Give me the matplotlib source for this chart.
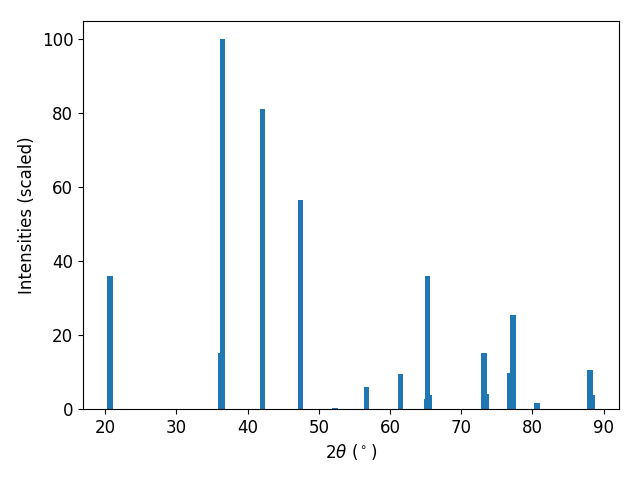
import matplotlib
matplotlib.use("Agg")
import matplotlib.pyplot as plt

# peak positions (2theta, degrees) and scaled intensities
two_theta = [20.70, 36.27, 36.46, 42.08, 47.43, 52.28, 56.71, 61.49,
             65.15, 65.57, 65.29, 73.45, 73.16, 76.82, 77.24, 80.62,
             88.35, 88.07]
intensity = [36.0, 15.1, 100.0, 81.3, 56.6, 0.3, 6.0, 9.6,
             2.7, 3.8, 35.9, 4.1, 15.2, 9.8, 25.5, 1.6,
             3.9, 10.6]

plt.rcParams['font.size'] = 12

fig, ax = plt.subplots(figsize=(6.4, 4.8), dpi=100)
ax.bar(two_theta, intensity, width=0.8, color='#1f77b4')
ax.set_xlabel(r'$2\theta$ ($^\circ$)')
ax.set_ylabel('Intensities (scaled)')
fig.subplots_adjust(left=83/640, right=619/640, top=1-21/480, bottom=1-409/480)
fig.savefig('out.png')
